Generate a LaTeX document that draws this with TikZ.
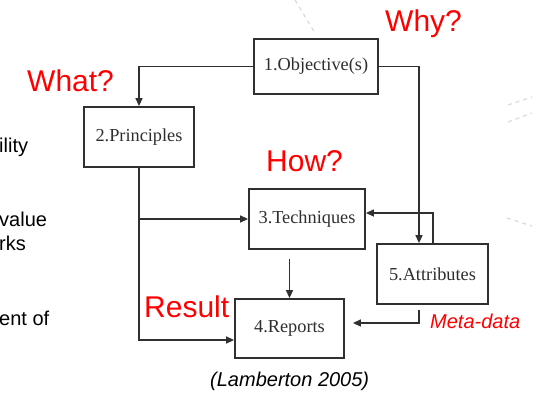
\documentclass[tikz,border=0pt]{standalone}
\usepackage{fontspec}
\setmainfont{Liberation Serif}
\newfontfamily\labelfont{Liberation Sans}
\usetikzlibrary{arrows.meta,calc}
\definecolor{boxline}{HTML}{303030}
\definecolor{boxtext}{HTML}{2E2E2E}
\definecolor{faint}{HTML}{DCDCDC}
\tikzset{
  stagebox/.style={draw=boxline,line width=1.8bp,inner sep=0pt,
    text=boxtext,font=\fontsize{18.3bp}{21bp}\selectfont},
  link/.style={draw=boxline,line width=1.4bp},
  arr/.style={link,-{Triangle[length=8bp,width=7bp]}},
  question/.style={anchor=base west,inner sep=0pt,text=red,
    font=\labelfont\fontsize{30bp}{36bp}\selectfont},
  note/.style={anchor=base west,inner sep=0pt,
    font=\labelfont\itshape\fontsize{20bp}{24bp}\selectfont},
  sidetext/.style={anchor=base west,inner sep=0pt,
    font=\labelfont\fontsize{20bp}{24bp}\selectfont},
  deco/.style={draw=faint,line width=1.3bp,dash pattern=on 4bp off 4bp},
}
\begin{document}
\begin{tikzpicture}[x=1bp,y=-1bp]
\useasboundingbox (0,0) rectangle (539,392);

% faint background strokes
\draw[deco] (295,0) -- (315,33);
\draw[deco] (508,105) -- (532,97);
\draw[deco] (508,122) -- (532,113);
\draw[deco] (507,218) -- (532,226);

% the five stages
\node[stagebox,minimum width=124bp,minimum height=55bp] (b1) at (316,66.5) {1.Objective(s)};
\node[stagebox,minimum width=110bp,minimum height=60bp] (b2) at (139,137) {2.Principles};
\node[stagebox,minimum width=116bp,minimum height=60bp] (b3) at (307,219) {3.Techniques};
\node[stagebox,minimum width=109bp,minimum height=59bp] (b4) at (289.5,328.5) {4.Reports};
\node[stagebox,minimum width=111bp,minimum height=60bp] (b5) at (432.5,274) {5.Attributes};

% connector end points
\coordinate (in5) at ($(b5.north)+(-13.5,0)$);
\coordinate (out5) at ($(b5.north)+(0.5,0)$);
\coordinate (in3) at ($(b3.east)+(0,-6)$);
\coordinate (in4w) at ($(b4.west)+(0,11.5)$);
\coordinate (split) at (b2.south |- b3.west);
\coordinate (from3) at ($(b3.south -| b4.north)+(0,9)$);
\coordinate (from5) at ($(b5.south)+(-13.5,5)$);
\coordinate (in4e) at ($(b4.east)+(8,-5.5)$);

% connectors
\draw[arr] (b1.west) -| (b2.north);
\draw[arr] (b1.east) -| (in5);
\draw[arr] (out5) |- (in3);
\draw[arr] (b2.south) |- (in4w);
\draw[arr] (split) -- (b3.west);
\draw[arr] (from3) -- (b4.north);
\draw[arr] (from5) |- (in4e);

% questions
\node[question] (why) at (385,31.5) {Why?};
\node[question] (what) at (27,91) {What?};
\node[question] (how) at (266,171) {How?};
\node[question] (result) at (144,317) {Result};

% notes
\node[note,text=red] (meta) at (430,328) {Meta-data};
\node[note] (cite) at (210,386) {(Lamberton 2005)};

% text running in from the left margin
\node[sidetext] (s1) at (-1,152) {ility};
\node[sidetext] (s2) at (-1,226) {value};
\node[sidetext] (s3) at (-1,250) {rks};
\node[sidetext] (s4) at (-1,325) {ent of};
\end{tikzpicture}
\end{document}
